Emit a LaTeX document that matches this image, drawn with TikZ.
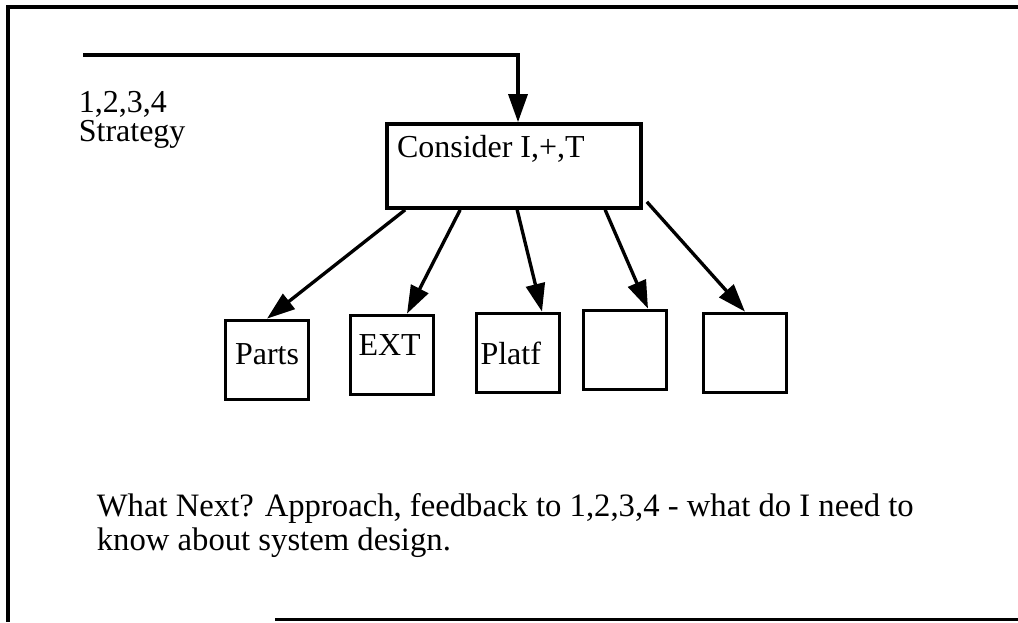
\documentclass[tikz,border=0pt]{standalone}
\usepackage{fontspec}
\setmainfont{Liberation Serif}
\usetikzlibrary{arrows.meta}

\begin{document}
\begin{tikzpicture}[line width=2.1pt,
	box/.style = {draw, minimum width=1.66cm, minimum height=1.58cm, inner sep=0pt},
	bigbox/.style = {draw, minimum width=5.08cm, minimum height=1.68cm, inner sep=0pt},
	txt/.style = {inner sep=0pt, font=\fontsize{18.2}{22}\selectfont},
	arr/.style = {-{Triangle[length=0.56cm, width=0.38cm]}, line width=1.9pt}]
	\useasboundingbox (0,0) rectangle (20.36,-12.44);
	
	% frame
	\draw[line width=2.4pt] (20.36,-0.14) -- (0.16,-0.14) -- (0.16,-12.44);
	\draw[line width=2pt] (5.5,-12.39) -- (20.36,-12.39);
	
	\node[bigbox] (c) at (10.28,-3.32) {};
	\node[txt, anchor=base west] (ctxt) at ([shift={(0.2,-0.7)}]c.north west) {Consider I,+,T};
	
	\node[box] (p) at (5.34,-7.20) {};
	\node[box] (e) at (7.84,-7.10) {};
	\node[box] (f) at (10.36,-7.06) {};
	\node[box] (b4) at (12.50,-7.00) {};
	\node[box] (b5) at (14.90,-7.06) {};
	
	\node[txt, anchor=base] (ptxt) at ([yshift=-0.08cm]p.center) {Parts};
	\node[txt, anchor=base west] (etxt) at ([shift={(0.16,-0.84)}]e.north west) {EXT};
	\node[txt, anchor=base west] (ftxt) at ([shift={(0.08,-1.06)}]f.north west) {Platf};
	
	\node[txt, anchor=base west] (s1) at (1.54,-2.24) {1,2,3,4};
	\node[txt, anchor=base west] (s2) at (1.54,-2.82) {Strategy};
	
	\node[txt, anchor=base west, font=\fontsize{18.6}{22}\selectfont] (q1) at (1.9,-10.32) {What Next? Approach, feedback to 1,2,3,4 - what do I need to};
	\node[txt, anchor=base west, font=\fontsize{18.6}{22}\selectfont] (q2) at (1.9,-11.0) {know about system design.};
	
	\coordinate (fb) at (1.66,-1.1);
	\draw[arr] (fb) -| ([xshift=0.08cm]c.north);
	
	\draw[arr] ([xshift=0.4cm]c.south west) -- (p.north);
	\draw[arr] ([xshift=1.5cm]c.south west) -- ([xshift=0.3cm]e.north);
	\draw[arr] ([xshift=2.64cm]c.south west) -- ([xshift=0.48cm]f.north);
	\draw[arr] ([xshift=4.4cm]c.south west) -- ([xshift=0.46cm]b4.north);
	\draw[arr] ([shift={(0.08,0.16)}]c.south east) -- (b5.north);
	
\end{tikzpicture}
\end{document}
